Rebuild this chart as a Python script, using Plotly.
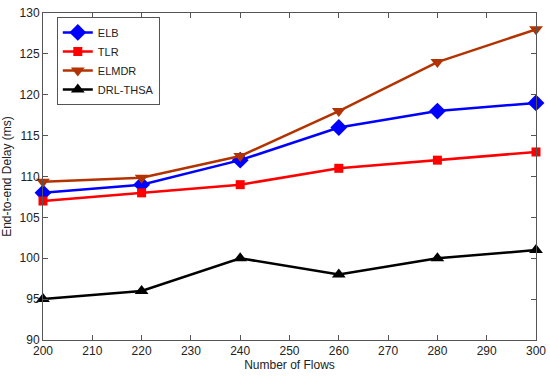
import plotly.graph_objects as go

flows = [200, 220, 240, 260, 280, 300]
elb = [108, 109, 112, 116, 118, 119]
tlr = [107, 108, 109, 111, 112, 113]
elmdr = [109.35, 109.85, 112.5, 118, 124, 128]
drl = [95, 96, 100, 98, 100, 101]

series = [
    ("ELB", elb, "#0000ff", "diamond", 13),
    ("TLR", tlr, "#ff0000", "square", 9),
    ("ELMDR", elmdr, "#b33300", "triangle-down", 12),
    ("DRL-THSA", drl, "#000000", "triangle-up", 12),
]

fig = go.Figure()
for name, ys, col, sym, sz in series:
    fig.add_trace(go.Scatter(
        x=flows, y=ys, name=name, mode="lines+markers",
        line=dict(color=col, width=2.5),
        marker=dict(symbol=sym, size=sz, color=col),
        cliponaxis=False,
    ))

axis_common = dict(
    showline=True, linecolor="#555555", linewidth=1, mirror="ticks",
    ticks="inside", ticklen=5, tickcolor="#555555",
    showgrid=False, zeroline=False, automargin=False,
    tickfont=dict(family="Liberation Sans, Arial", size=12, color="#222222"),
)

fig.update_layout(
    width=550, height=380,
    margin=dict(l=43, r=14, t=13, b=40),
    paper_bgcolor="white", plot_bgcolor="white",
    font=dict(family="Liberation Sans, Arial", size=12, color="#222222"),
    xaxis=dict(range=[200, 300], dtick=10, tick0=200,
               title=dict(text="Number of Flows", standoff=2, font=dict(size=12)),
               **axis_common),
    yaxis=dict(range=[90, 130], dtick=5, tick0=90,
               title=dict(text="End-to-end Delay (ms)", standoff=8, font=dict(size=12)),
               **axis_common),
    legend=dict(x=0.028, y=0.988, xanchor="left", yanchor="top",
                bgcolor="white", bordercolor="#555555", borderwidth=1,
                font=dict(size=11), tracegroupgap=0, itemwidth=30),
    showlegend=True,
)

fig.write_html("out.html", config={"displayModeBar": False},
               post_script="document.body.style.margin='0';document.body.style.padding='0';")
